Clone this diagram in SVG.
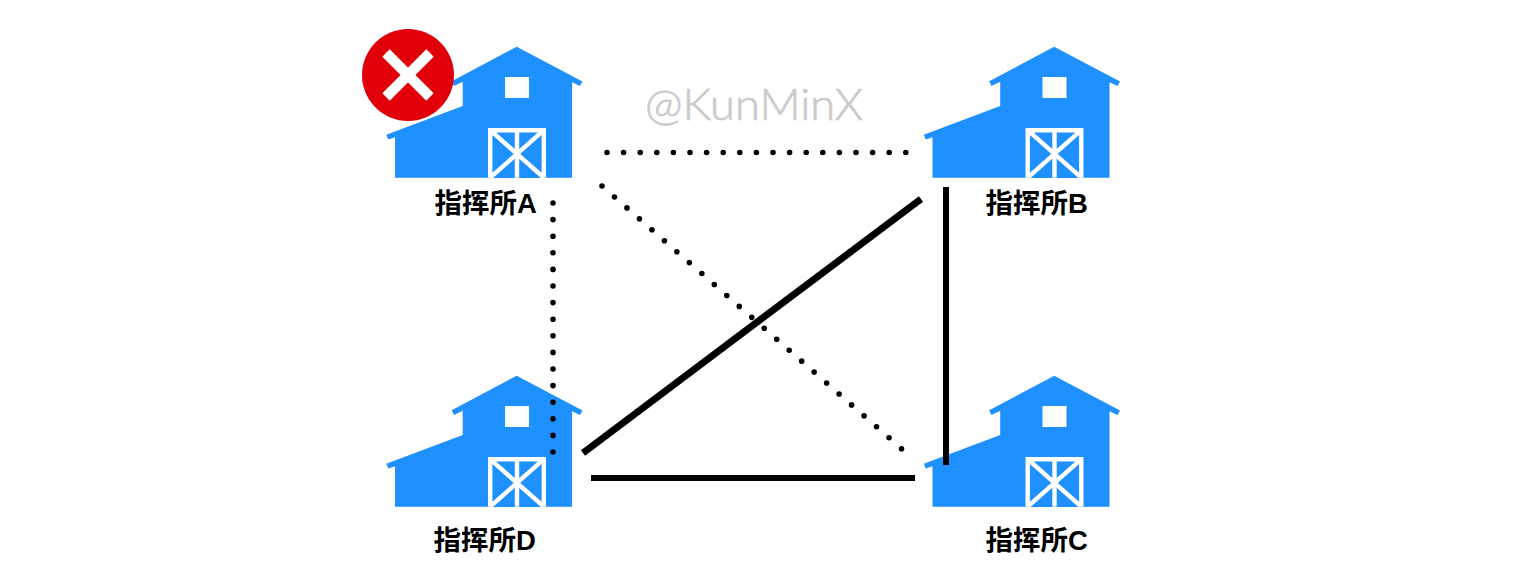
<svg xmlns="http://www.w3.org/2000/svg" width="1520" height="584" viewBox="0 0 1520 584">
<style>
.body{fill:#1e90ff}
.win{fill:#fff}
.fr{fill:none;stroke:#fff;stroke-width:4.4}
.lab{font-family:"Liberation Sans","Noto Sans CJK SC",sans-serif;font-weight:700;font-size:27.5px;fill:#000}
.sol{fill:none;stroke:#000;stroke-width:6}
.dot{fill:none;stroke:#000;stroke-width:5.6;stroke-linecap:round;stroke-dasharray:0 16.6}
</style>
<defs>
<g id="barn">
<path class="body" d="M516.7 46.7L582.5 81.5L580 86L572 82.3V177.7H395V137.3L388.3 139.5L386.3 134.8L462.7 106V81.7L454 86L451.7 81.3Z"/>
<rect class="win" x="505" y="77" width="24" height="21"/>
<rect class="body" x="488" y="128" width="58" height="50"/>
<path class="fr" d="M490.2 177.7V130.2H543.8V177.7M517 130.2V177.7M490.2 130.2L543.8 177.7M543.8 130.2L490.2 177.7"/>
</g>
</defs>
<rect width="1520" height="584" fill="#fff"/>
<g id="node-a"><use href="#barn"/><text class="lab" x="434.5" y="213">指挥所A</text></g>
<g id="node-b"><use href="#barn" x="537.5"/><text class="lab" x="985.5" y="213">指挥所B</text></g>
<g id="node-c"><use href="#barn" x="537.5" y="329"/><text class="lab" x="985.5" y="550">指挥所C</text></g>
<g id="node-d"><use href="#barn" y="329"/><text class="lab" x="433.5" y="550">指挥所D</text></g>
<g id="badge"><circle cx="408" cy="75" r="46" fill="#e1000a"/><path d="M386 53L430 97M430 53L386 97" fill="none" stroke="#fff" stroke-width="10.5"/></g>
<text id="watermark" x="645" y="120" font-family="Lato,'Open Sans',sans-serif" font-size="44" font-weight="300" fill="#cbcbcb" stroke="#cbcbcb" stroke-width="0.7" textLength="218" lengthAdjust="spacingAndGlyphs">@KunMinX</text>
<g id="connectors">
<path class="dot" d="M607 152.5H906"/>
<path class="dot" d="M553 203V453"/>
<path class="dot" d="M602 186L903 450"/>
<path class="sol" d="M583 453L921 199" style="stroke-width:7"/>
<path class="sol" d="M946 187V465"/>
<path class="sol" d="M591 478H915"/>
</g>
</svg>
